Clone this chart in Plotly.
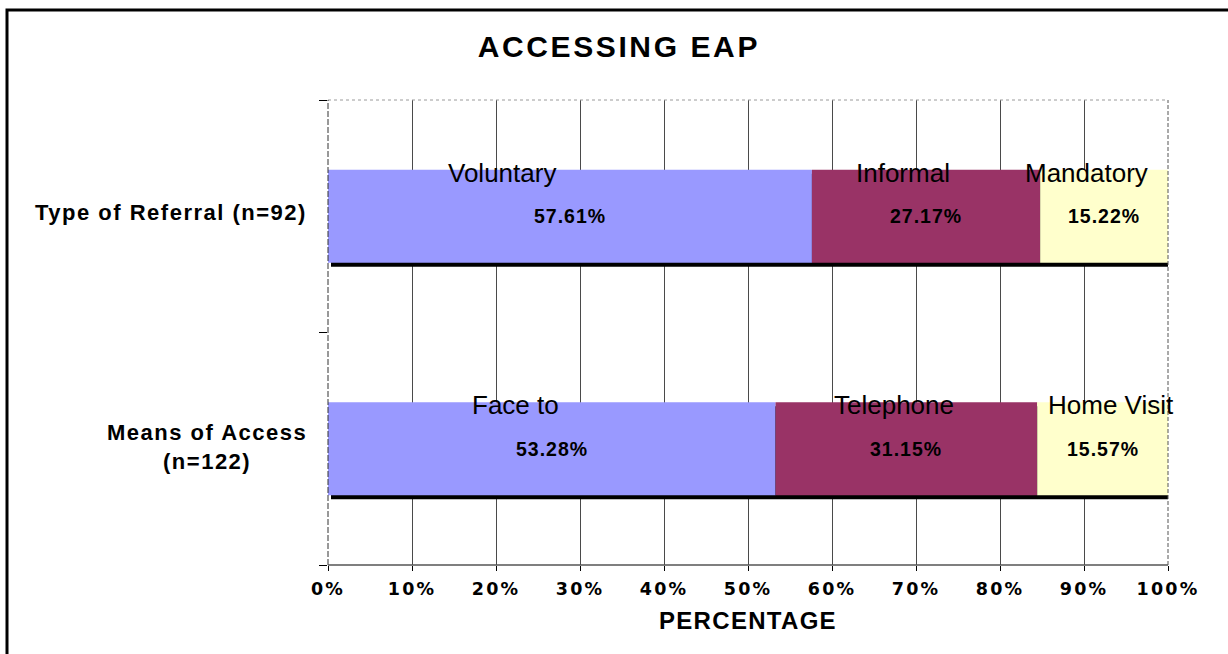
import plotly.graph_objects as go

# ---------------- data ----------------
CATEGORIES = ["Type of Referral (n=92)", "Means of Access (n=122)"]
CATEGORY_LABELS = [["Type of Referral (n=92)"], ["Means of Access", "(n=122)"]]
REFERRAL_TYPES = ["Voluntary", "Informal", "Mandatory"]
REFERRAL_PCT = [57.61, 27.17, 15.22]
ACCESS_MEANS = ["Face to", "Telephone", "Home Visit"]
ACCESS_PCT = [53.28, 31.15, 15.57]
X_TICKS = [0, 10, 20, 30, 40, 50, 60, 70, 80, 90, 100]
X_TICK_LABELS = ["0%", "10%", "20%", "30%", "40%", "50%", "60%", "70%", "80%", "90%", "100%"]
TITLE = "ACCESSING EAP"
X_TITLE = "PERCENTAGE"

# ---------------- style ----------------
W, H = 1228, 654
ML, MR, MT, MB = 328, 60, 100, 89
PW, PH = W - ML - MR, H - MT - MB
COLORS = ["#9999FF", "#993366", "#FFFFCC"]
BAR_W = 0.4
PX_PER_X = PW / 100.0
PX_PER_CAT = PH / 2.0
SHADOW_DX, SHADOW_DY = 3, 4
NAME_XSHIFT = [[-68, -23, -18], [-36, -12, 8]]
LABEL_YSHIFT = [4, 2]
FONT = "Liberation Sans, Arial, sans-serif"


def spaced(txt, px):
    return f'<span style="letter-spacing:{px}px">{txt}</span>'


rows = [(CATEGORIES[0], REFERRAL_TYPES, REFERRAL_PCT),
        (CATEGORIES[1], ACCESS_MEANS, ACCESS_PCT)]
ypos = {CATEGORIES[1]: 0, CATEGORIES[0]: 1}

fig = go.Figure()

# shadow behind each stacked bar
fig.add_trace(go.Bar(
    orientation="h",
    y=[r[0] for r in rows],
    x=[sum(r[2]) for r in rows],
    base=[SHADOW_DX / PX_PER_X] * len(rows),
    width=BAR_W,
    offset=-BAR_W / 2 - SHADOW_DY / PX_PER_CAT,
    marker=dict(color="black", line=dict(width=0)),
    hoverinfo="skip", showlegend=False,
))

# segments
for i in range(3):
    bases = [sum(r[2][:i]) for r in rows]
    fig.add_trace(go.Bar(
        orientation="h",
        y=[r[0] for r in rows],
        x=[r[2][i] for r in rows],
        base=bases,
        width=BAR_W,
        offset=-BAR_W / 2,
        marker=dict(color=COLORS[i], line=dict(width=0)),
        text=[r[1][i] for r in rows],
        textposition="none",
        hovertemplate="%{text}: %{x:.2f}%<extra></extra>",
        showlegend=False,
    ))

annotations = []
for ri, (cat, names, vals) in enumerate(rows):
    yc = ypos[cat]
    acc = 0.0
    for i, (nm, v) in enumerate(zip(names, vals)):
        xc = acc + v / 2.0
        annotations.append(dict(
            x=xc, y=yc + BAR_W / 2, xref="x", yref="y", text=nm,
            showarrow=False, xanchor="center", yanchor="middle",
            xshift=NAME_XSHIFT[ri][i], yshift=-3,
            font=dict(family=FONT, size=26, color="black"),
        ))
        annotations.append(dict(
            x=xc, y=yc, xref="x", yref="y", text=spaced(f"{v:.2f}%", 1),
            showarrow=False, xanchor="center", yanchor="middle",
            font=dict(family=FONT, size=19.5, color="black", weight="bold"),
        ))
        acc += v
    annotations.append(dict(
        x=0, y=yc, xref="paper", yref="y",
        text="<br>".join(spaced(t, 1.5) for t in CATEGORY_LABELS[ri]),
        showarrow=False, xanchor="right", yanchor="middle", align="center",
        xshift=-19, yshift=LABEL_YSHIFT[ri],
        font=dict(family=FONT, size=22, color="black", weight="bold"),
    ))

annotations.append(dict(
    x=0.5, y=0, xref="paper", yref="paper", text=spaced(X_TITLE, 1.3),
    showarrow=False, xanchor="center", yanchor="middle", yshift=-(620.5 - 565),
    font=dict(family=FONT, size=24, color="black", weight="bold"),
))


def px_x(px):
    return (px - ML) / PW


def px_y(py):
    return (H - MB - py) / PH


shapes = [
    dict(type="line", xref="paper", yref="paper", x0=0, x1=1, y0=1, y1=1,
         line=dict(color="#9a9a9a", width=1, dash="dot"), layer="above"),
    dict(type="line", xref="paper", yref="paper", x0=0, x1=0, y0=0, y1=1,
         line=dict(color="#333333", width=1, dash="6px,2px"), layer="above"),
    dict(type="line", xref="paper", yref="paper", x0=1, x1=1, y0=0, y1=1,
         line=dict(color="#555555", width=1, dash="4px,2px"), layer="above"),
    dict(type="line", xref="paper", yref="paper", x0=0, x1=1, y0=0, y1=0,
         line=dict(color="#555555", width=1.5), layer="above"),
    dict(type="rect", xref="paper", yref="paper",
         x0=px_x(7), x1=px_x(W + 20), y0=px_y(H + 20), y1=px_y(10),
         line=dict(color="black", width=3), fillcolor="rgba(0,0,0,0)", layer="above"),
]

fig.update_layout(
    width=W, height=H,
    margin=dict(l=ML, r=MR, t=MT, b=MB, pad=0),
    paper_bgcolor="white", plot_bgcolor="white",
    barmode="overlay",
    showlegend=False,
    title=dict(text=spaced(TITLE, 2.6), x=0.504, xref="container", xanchor="center",
               y=1 - 46.7 / H, yref="container", yanchor="middle",
               font=dict(family=FONT, size=30, color="black", weight="bold")),
    xaxis=dict(range=[0, 100], tickvals=X_TICKS,
               ticktext=[spaced(t, 2.2) for t in X_TICK_LABELS],
               showgrid=False, zeroline=False, showline=False,
               ticks="outside", ticklen=5, tickcolor="black", tickwidth=1,
               ticklabelstandoff=3,
               tickfont=dict(family="DejaVu Sans, sans-serif", size=17.5, color="black", weight="bold"),
               minor=dict(tickvals=X_TICKS[1:-1], showgrid=True, gridcolor="#4a4a4a",
                          gridwidth=1, ticks=""),
               fixedrange=True),
    yaxis=dict(type="category", categoryorder="array",
               categoryarray=[CATEGORIES[1], CATEGORIES[0]], range=[-0.5, 1.5],
               showgrid=False, zeroline=False, showline=False,
               ticks="outside", tickson="boundaries", ticklen=8, tickcolor="black",
               showticklabels=False, fixedrange=True),
    annotations=annotations,
    shapes=shapes,
)

fig.write_html("out.html", config={"displayModeBar": False},
               post_script="document.body.style.margin='0';")
